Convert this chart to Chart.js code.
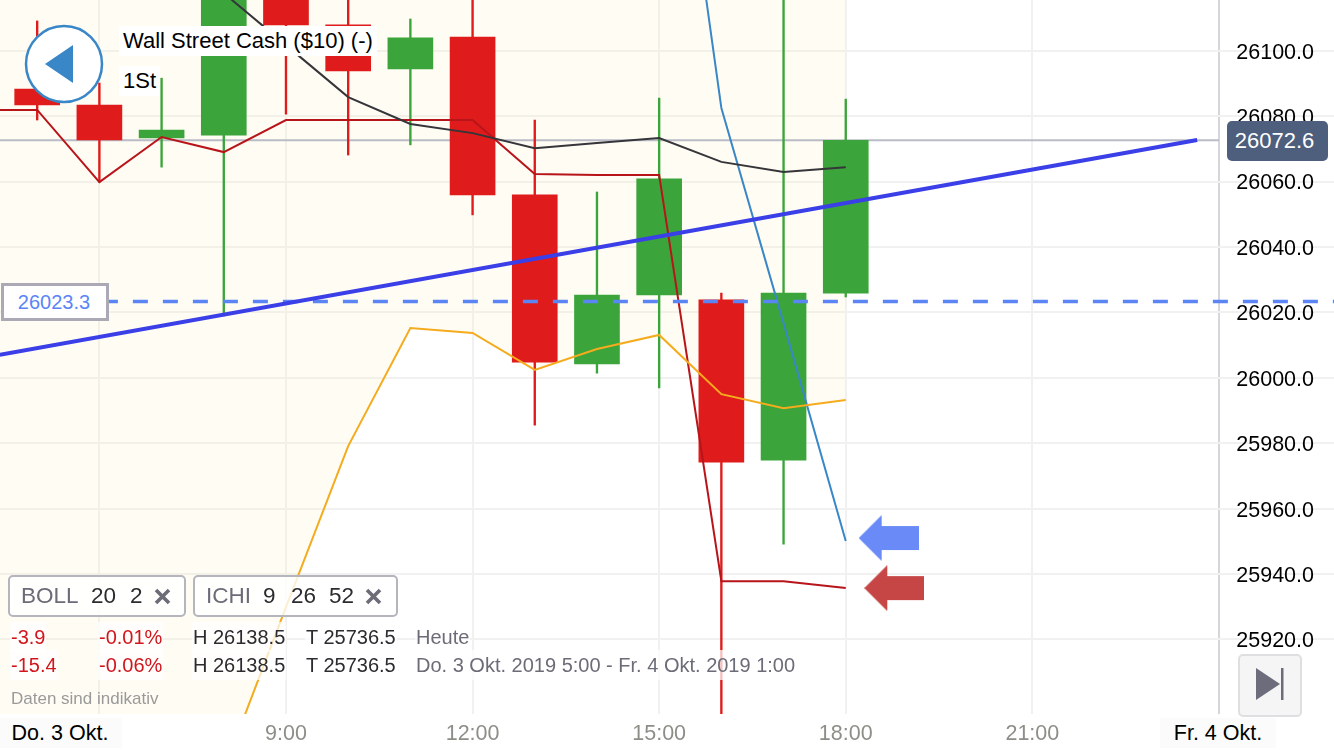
<!DOCTYPE html>
<html lang="de">
<head>
<meta charset="utf-8">
<title>Wall Street Cash</title>
<script src="https://cdn.jsdelivr.net/npm/chart.js@4"></script>
<style>
html,body{margin:0;padding:0;background:#fff;overflow:hidden}
body{width:1334px;height:750px;position:relative;font-family:"Liberation Sans",Arial,sans-serif}
canvas{position:absolute;left:0;top:0}
.t{position:absolute;white-space:nowrap;line-height:30px;height:30px}
.box{position:absolute;box-sizing:border-box}
.chip{border:2px solid #b5b5bd;border-radius:5px;background:rgba(255,255,255,.8);height:42px;top:575px}
.lab{background:#fff;font-size:22px;color:#000;padding:0 4px}
.row{font-size:20px;background:rgba(255,255,255,.72);padding:0 1px}
.g{color:#6c6c78}.d{color:#2c2c30}.r{color:#d0161c}
.c{font-size:22.5px;top:581px}
.dt{font-size:21.5px;top:718px;color:#000;background:#fbfbfb;text-align:center}
</style>
</head>
<body>
<canvas id="chart" width="1334" height="750"></canvas>

<svg class="box" style="left:24px;top:24px" width="80" height="80">
  <circle cx="40" cy="40" r="38" fill="#fff" stroke="#3a87c8" stroke-width="2.5"/>
  <path d="M21 40 L49 21 L49 59 Z" fill="#3a87c8"/>
</svg>
<div class="t lab" style="left:119px;top:26px">Wall Street Cash ($10) (-)</div>
<div class="t lab" style="left:119px;top:66px">1St</div>

<div class="box chip" style="left:8px;width:178px"></div>
<div class="t c g" style="left:21px">BOLL</div>
<div class="t c d" style="left:91px">20</div>
<div class="t c d" style="left:130px">2</div>
<svg class="box" style="left:154px;top:588px" width="17" height="17"><path d="M2 2L15 15M15 2L2 15" stroke="#6c6c78" stroke-width="3.6"/></svg>
<div class="box chip" style="left:193px;width:205px"></div>
<div class="t c g" style="left:206px">ICHI</div>
<div class="t c d" style="left:263px">9</div>
<div class="t c d" style="left:291px">26</div>
<div class="t c d" style="left:329px">52</div>
<svg class="box" style="left:365px;top:588px" width="17" height="17"><path d="M2 2L15 15M15 2L2 15" stroke="#6c6c78" stroke-width="3.6"/></svg>

<div class="t row r" style="left:10px;top:622px">-3.9</div>
<div class="t row r" style="left:98px;top:622px">-0.01%</div>
<div class="t row d" style="left:192px;top:622px">H 26138.5</div>
<div class="t row d" style="left:305px;top:622px">T 25736.5</div>
<div class="t row g" style="left:415px;top:622px">Heute</div>
<div class="t row r" style="left:10px;top:650px">-15.4</div>
<div class="t row r" style="left:98px;top:650px">-0.06%</div>
<div class="t row d" style="left:192px;top:650px">H 26138.5</div>
<div class="t row d" style="left:305px;top:650px">T 25736.5</div>
<div class="t row g" style="left:415px;top:650px">Do. 3 Okt. 2019 5:00 - Fr. 4 Okt. 2019 1:00</div>
<div class="t" style="left:11px;top:684px;font-size:17px;color:#9a9a9a">Daten sind indikativ</div>

<div class="t dt" style="left:0;width:120px;padding-right:2px">Do. 3 Okt.</div>
<div class="t dt" style="left:1160px;width:116px">Fr. 4 Okt.</div>

<div class="box" style="left:1227px;top:121px;width:101px;height:40px;padding-right:6px;background:#4d5f7c;border-radius:5px;color:#fff;font-size:22px;line-height:40px;text-align:center">26072.6</div>
<div class="box" style="left:1px;top:283px;width:108px;height:38px;padding-right:2px;background:#fff;border:3px solid #aaa9b5;color:#5b85f5;font-size:20px;line-height:32px;text-align:center">26023.3</div>

<div class="box" style="left:1238px;top:654px;width:64px;height:63px;background:#f5f5f5;border:2px solid #dfdfe2;border-radius:5px"></div>
<svg class="box" style="left:1250px;top:662px" width="40" height="44"><path d="M6 6 L30 22 L6 38 Z" fill="#6c6c7c"/><rect x="31" y="6" width="2.5" height="32" fill="#6c6c7c"/></svg>

<script>
'use strict'

// Stunden der Kerzen (5:00 - 18:00)
const candleHours = [5,6,7,8,9,10,11,12,13,14,15,16,17,18];
const opens  = [26088.3,26083.4,26073.3,26074.2,26130.8,26107.9,26094.4,26104.2,26055.9,26004.2,26025.3,26023.8,25974.8,26025.9];
const closes = [26083.4,26072.7,26075.7,26127.7,26107.9,26093.8,26103.9,26055.9,26004.8,26025.3,26060.8,25974.2,26025.9,26072.6];
const highs  = [26109.1,26090.1,26091.6,26133.8,26138.5,26118.6,26109.7,26117.0,26078.8,26056.8,26085.5,26025.9,26117.0,26085.2];
const lows   = [26078.8,26059.8,26064.4,26018.9,26080.6,26068.1,26071.2,26049.8,25985.5,26001.4,25996.9,25886.0,25949.1,26024.7];

// Indikatoren (4:00 - 18:00)
const lineHours = [4,5,6,7,8,9,10,11,12,13,14,15,16,17,18];
const bollLower = [25748.5,25779.1,25809.7,25840.3,25880.0,25929.9,25979.1,26015.2,26013.7,26002.4,26008.8,26013.1,25995.0,25990.7,25993.2];
const bollMid   = [null,null,null,null,26117.6,26101.7,26085.8,26077.6,26074.8,26070.2,26071.8,26073.3,26066.0,26062.9,26064.4];
const ichiRed   = [26081.9,26081.9,26059.8,26073.6,26069.0,26078.8,26078.8,26078.8,26078.8,26062.3,26062.0,26062.0,25937.8,25937.8,25935.7];
const ichiBlue  = [null,null,null,null,null,null,null,null,null,null,null,26218.9,26082.5,26016.7,25950.1];

// Trendlinie und Kurslinien
const trendHours = [4.4,23.65];
const trendValues = [26007.0,26072.7];
const lastPrice = 26072.6;
const lastPriceHours = [4.4,24];
const markedPrice = 26023.3;
const markedPriceHours = [4.4,25.85];

// Pfeile am Ende der Linien
const blueArrow = [18.69,25951.0];
const redArrow = [18.78,25935.7];

const xTicks = [6,9,12,15,18,21,24];
const xTickLabels = ["","9:00","12:00","15:00","18:00","21:00",""];
const yTicks = [25920,25940,25960,25980,26000,26020,26040,26060,26080,26100];

const RED = "#e01b1b";
const GREEN = "#3ba53b";

function pairs(xs,ys) {
    return xs.map((x,i) => ({x:x,y:ys[i]}));
}

function candleColor(i) {
    return closes[i] >= opens[i] ? GREEN : RED;
}

function makeArrow(color) {
    const c = document.createElement("canvas");
    c.width = 60; c.height = 46;
    const g = c.getContext("2d");
    g.fillStyle = color;
    g.beginPath();
    g.moveTo(0,23); g.lineTo(23,0); g.lineTo(23,11); g.lineTo(60,11);
    g.lineTo(60,35); g.lineTo(23,35); g.lineTo(23,46);
    g.closePath();
    g.fill();
    return c;
}

function lineSet(data,color,width,order) {
    return {type:"line",data:data,borderColor:color,borderWidth:width,pointRadius:0,tension:0,order:order,fill:false};
}

const bollSet = lineSet(pairs(lineHours,bollLower),"#f5ab1e",2,3);
bollSet.fill = "end";
bollSet.backgroundColor = "rgba(255,236,179,0.16)";

const markedSet = lineSet(pairs(markedPriceHours,[markedPrice,markedPrice]),"#5b85f5",3.5,2);
markedSet.borderDash = [15,15];
markedSet.borderDashOffset = 17;

function arrowSet(point,color) {
    return {type:"line",data:[{x:point[0],y:point[1]}],showLine:false,pointStyle:makeArrow(color),pointRadius:20,order:0};
}

new Chart(document.getElementById("chart"),{
    type:"bar",
    data:{
        datasets:[
            lineSet(pairs(lastPriceHours,[lastPrice,lastPrice]),"#b9bcc6",2,9),
            {data:candleHours.map((h,i) => ({x:h,y:[lows[i],highs[i]]})),grouped:false,barThickness:1.7,
             backgroundColor:ctx => candleColor(ctx.dataIndex),order:8},
            {data:candleHours.map((h,i) => ({x:h,y:[opens[i],closes[i]]})),grouped:false,barThickness:45,
             backgroundColor:ctx => candleColor(ctx.dataIndex),order:7},
            bollSet,
            lineSet(pairs(lineHours,bollMid),"#35353a",2,3),
            lineSet(pairs(lineHours,ichiRed),"#b8151b",2,3),
            lineSet(pairs(lineHours,ichiBlue),"#3a87c8",2,3),
            markedSet,
            lineSet(pairs(trendHours,trendValues),"#3a3fe8",4,1),
            arrowSet(blueArrow,"#6a8bf7"),
            arrowSet(redArrow,"#c64646")
        ]
    },
    options:{
        responsive:false,
        animation:false,
        events:[],
        layout:{padding:0,autoPadding:false},
        plugins:{legend:{display:false},tooltip:{enabled:false},filler:{drawTime:"beforeDatasetsDraw"}},
        scales:{
            x:{
                type:"linear",
                min:4.402,
                max:25.85,
                offset:false,
                grid:{offset:false,drawTicks:false,lineWidth:2,color:ctx => ctx.tick && ctx.tick.value === 24 ? "#d5d5da" : "#f1f1f1"},
                border:{display:false},
                afterBuildTicks:axis => { axis.ticks = xTicks.map(v => ({value:v})); },
                afterFit:axis => { axis.height = 36; },
                ticks:{
                    autoSkip:false,
                    maxRotation:0,
                    padding:7,
                    color:"#8e8e88",
                    font:{family:"Liberation Sans",size:21.5},
                    callback:v => xTickLabels[xTicks.indexOf(v)]
                }
            },
            y:{
                type:"linear",
                position:"right",
                min:25897.2,
                max:26115.5,
                grid:{drawTicks:false,lineWidth:2,color:"#f1f1f1"},
                border:{display:false},
                afterBuildTicks:axis => { axis.ticks = yTicks.map(v => ({value:v})); },
                afterFit:axis => { axis.width = 0; axis.paddingTop = 0; axis.paddingBottom = 0; },
                ticks:{
                    mirror:true,
                    padding:-20,
                    labelOffset:2,
                    color:"#000",
                    font:{family:"Liberation Sans",size:21.5},
                    callback:v => v.toFixed(1)
                }
            }
        }
    }
});
</script>
</body>
</html>
